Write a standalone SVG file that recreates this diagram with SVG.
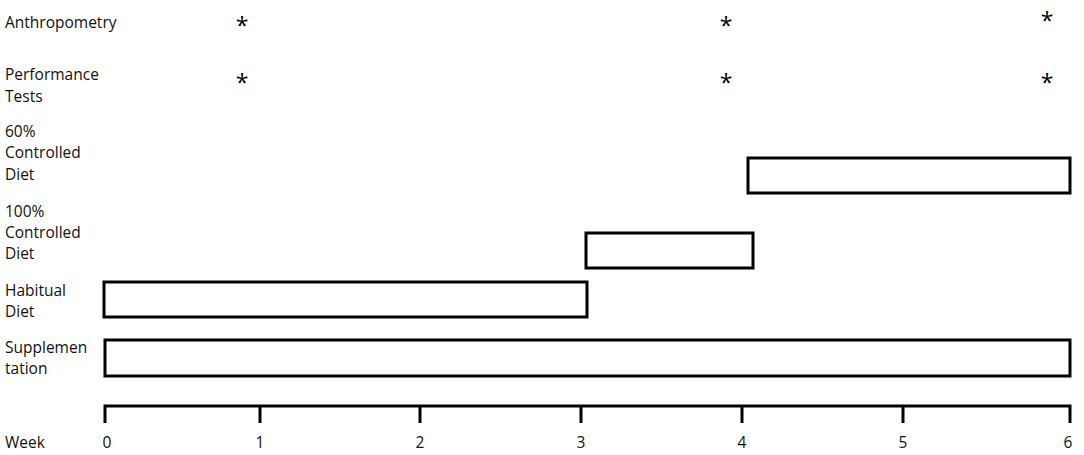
<svg xmlns="http://www.w3.org/2000/svg" width="1084" height="455" viewBox="0 0 1084 455">
<style>
text{font-family:"Open Sans","Noto Sans","Liberation Sans",sans-serif;font-size:15.5px;fill:#111}
.ast{font-size:23px;text-anchor:middle;fill:#000}
.bar{fill:#fff;stroke:#000;stroke-width:3}
.axis{fill:none;stroke:#000;stroke-width:3}
.tick{text-anchor:middle}
</style>
<rect width="1084" height="455" fill="#fff"/>
<g id="labels">
<text x="5" y="28">Anthropometry</text>
<text x="5" y="80">Performance</text>
<text x="5" y="102">Tests</text>
<text x="5" y="137">60%</text>
<text x="5" y="158">Controlled</text>
<text x="5" y="180">Diet</text>
<text x="5" y="217">100%</text>
<text x="5" y="238">Controlled</text>
<text x="5" y="259">Diet</text>
<text x="5" y="296">Habitual</text>
<text x="5" y="317">Diet</text>
<text x="5" y="353">Supplemen</text>
<text x="5" y="374">tation</text>
<text x="5" y="448">Week</text>
</g>
<g id="markers">
<text class="ast" x="242" y="34">*</text>
<text class="ast" x="726" y="34">*</text>
<text class="ast" x="1047" y="29">*</text>
<text class="ast" x="242" y="91">*</text>
<text class="ast" x="726" y="91">*</text>
<text class="ast" x="1047" y="91">*</text>
</g>
<g id="bar-60">
<rect class="bar" x="748" y="158" width="322" height="35"/>
</g>
<g id="bar-100">
<rect class="bar" x="586" y="233" width="167" height="35"/>
</g>
<g id="bar-habitual">
<rect class="bar" x="104" y="282" width="483" height="35"/>
</g>
<g id="bar-supplementation">
<rect class="bar" x="105" y="340" width="965" height="36"/>
</g>
<g id="axis">
<path class="axis" d="M105,423 V406 H1070 V423 M260,406 V423 M420,406 V423 M581,406 V423 M742,406 V423 M903,406 V423"/>
<text class="tick" x="107" y="448">0</text>
<text class="tick" x="260" y="448">1</text>
<text class="tick" x="420" y="448">2</text>
<text class="tick" x="581" y="448">3</text>
<text class="tick" x="742" y="448">4</text>
<text class="tick" x="903" y="448">5</text>
<text class="tick" x="1068" y="448">6</text>
</g>
</svg>
